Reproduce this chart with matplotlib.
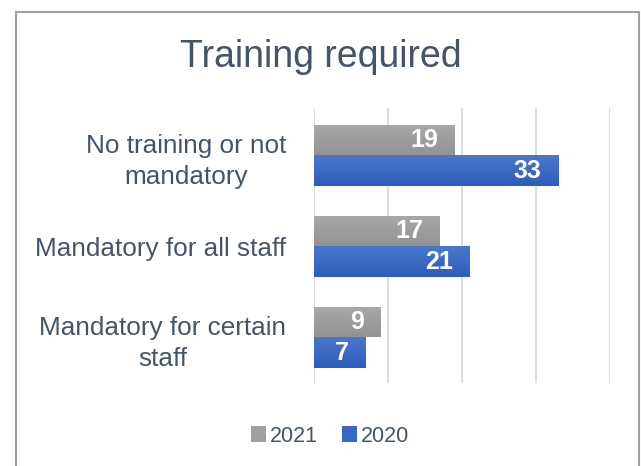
import matplotlib
matplotlib.use("Agg")
import matplotlib.pyplot as plt
from matplotlib.patches import Rectangle
from matplotlib.colors import LinearSegmentedColormap
from matplotlib.transforms import offset_copy
import numpy as np

categories = ["No training or not\nmandatory", "Mandatory for all staff", "Mandatory for certain\nstaff"]
values_2021 = [19, 17, 9]
values_2020 = [33, 21, 7]
series_names = ["2021", "2020"]

plt.rcParams['font.family'] = ['Liberation Sans', 'DejaVu Sans']
text_color = '#44546a'
grid_color = '#d9dde8'

fig = plt.figure(figsize=(6.41, 4.66), dpi=100)
fig.patches.append(Rectangle((16/641, -0.05), (639-16)/641, 1.05 - 12/466, transform=fig.transFigure,
                             fill=False, edgecolor='#a0a0a0', linewidth=1.5))
ax = fig.add_axes([314/641, 1 - 383/466, (610-314)/641, (383-108)/466])

n = len(categories)
y = np.arange(n)
h = 0.335
b21 = ax.barh(y - h/2, values_2021, height=h, color='#a0a0a0', label=series_names[0], zorder=2)
b20 = ax.barh(y + h/2, values_2020, height=h, color='#3a67c4', label=series_names[1], zorder=2)

cmaps = [LinearSegmentedColormap.from_list('g', ['#a8a8a8', '#939393']),
         LinearSegmentedColormap.from_list('b', ['#4a77cc', '#2d5cbc'])]
grad = np.linspace(0, 1, 64).reshape(-1, 1)
for bars, cm in zip([b21, b20], cmaps):
    for p in bars:
        x0, y0 = p.get_x(), p.get_y()
        w, hh = p.get_width(), p.get_height()
        im = ax.imshow(grad, cmap=cm, aspect='auto', extent=(x0, x0 + w, y0 + hh, y0),
                       zorder=2.5, interpolation='bilinear')
        im.set_clip_path(p)

for bars, vals in zip([b21, b20], [values_2021, values_2020]):
    for p, v in zip(bars, vals):
        ax.annotate(str(v), (p.get_x() + p.get_width(), p.get_y() + p.get_height()/2),
                    xytext=(-12, 0), textcoords='offset points', ha='right', va='center',
                    color='white', fontsize=18, fontweight='bold', zorder=4)

ax.set_xlim(0, 40)
ax.set_ylim(n - 0.5 + 0.0, -0.5 - 0.02)
ax.set_xticks([0, 10, 20, 30, 40])
ax.xaxis.grid(True, color=grid_color, linewidth=1.5, zorder=0)
ax.set_axisbelow(True)
ax.tick_params(axis='x', length=0, labelbottom=False)
ax.tick_params(axis='y', length=0, pad=0)
ax.set_yticks(y)
ax.set_yticklabels(categories, fontsize=18.8, color=text_color, ha='right',
                   multialignment='center', linespacing=1.35)
for lbl in ax.get_yticklabels():
    lbl.set_transform(offset_copy(lbl.get_transform(), fig=fig, x=-(314-286), units='dots'))
for s in ax.spines.values():
    s.set_visible(False)

fig.text(321/641, 1 - 57/466, "Training required", ha='center', va='center',
         fontsize=27, color=text_color)

handles = [b21, b20]
leg = fig.legend(handles, series_names, loc='center', bbox_to_anchor=(330/641, 1 - 436/466),
                 ncol=2, frameon=False, fontsize=15.5, labelcolor=text_color,
                 handlelength=0.7, handleheight=0.7, handletextpad=0.2, columnspacing=1.1)

fig.savefig("out.png", dpi=100)
